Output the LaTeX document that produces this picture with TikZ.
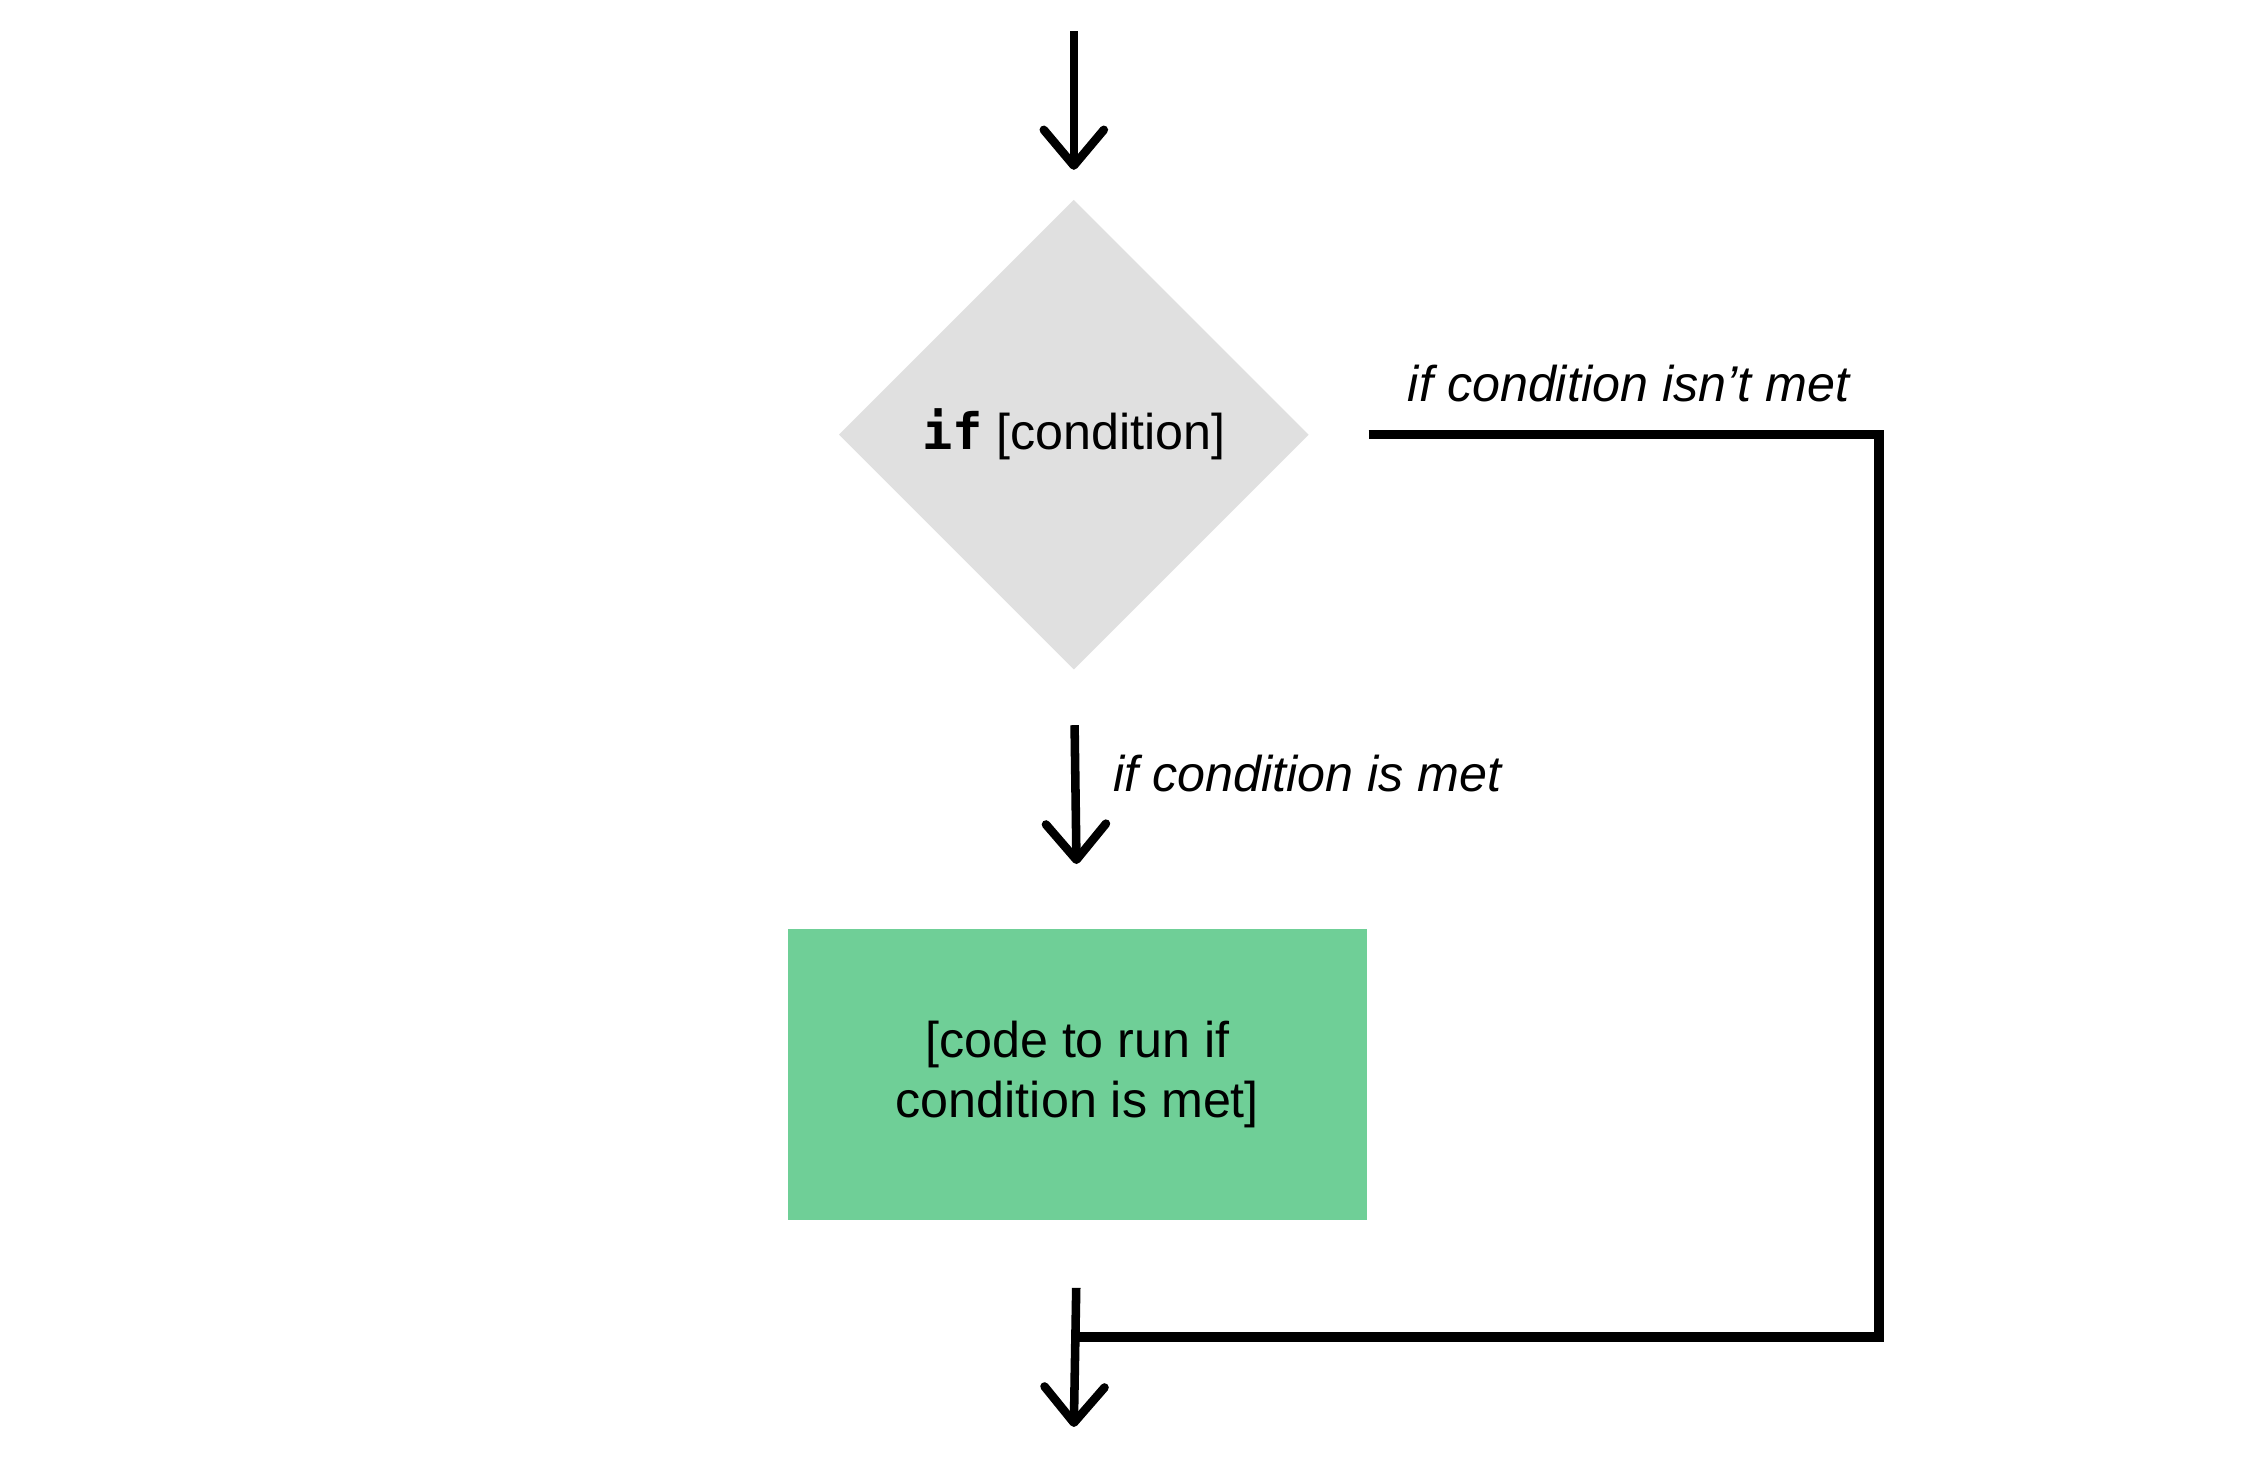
\documentclass[tikz,border=0pt]{standalone}
\usepackage{fontspec}
\setmainfont{Liberation Sans}
\setmonofont{DejaVu Sans Mono}
\usepackage{xcolor}
\usepackage{tikz}
\usetikzlibrary{arrows.meta,positioning,shapes.geometric}

\definecolor{condgray}{HTML}{E0E0E0}
\definecolor{codegreen}{HTML}{6FCF97}

\begin{document}
\begin{tikzpicture}[arr/.style={-{Straight Barb[length=0.25cm,width=0.42cm,round]},line width=1.7pt},
  cond/.style={diamond,fill=condgray,minimum width=3.29cm,minimum height=3.29cm,inner sep=0pt,font=\fontsize{10pt}{12pt}\selectfont},
  codebox/.style={rectangle,fill=codegreen,minimum width=4.05cm,minimum height=2.03cm,align=center,font=\fontsize{10pt}{12pt}\selectfont},
  lbl/.style={font=\fontsize{10pt}{12pt}\selectfont\itshape,inner sep=0pt}]

  \useasboundingbox (0,0) rectangle (15.68,-10.23);

    % The flow
	\coordinate (start) at (7.51,-0.22);
	\node [cond] at (7.51,-3.04) (if) {\texttt{\bfseries if} [condition]};
	\node [codebox] at (7.535,-7.515) (code) {[code to run if\\condition is met]};
	\coordinate (corner) at (13.14,-9.35);
	\coordinate (join) at (7.51,-9.35);
	\coordinate (end) at (7.51,-9.98);

	% Flow edges
	\draw[arr,shorten >=0.2cm] (start) -- (if.north);
	\draw[arr,shorten <=0.38cm,shorten >=0.45cm] (if.south) -- (code.north);
	\draw[arr,shorten <=0.47cm] (code.south) -- (end);
	\draw[line width=1.9pt] ([xshift=0.41cm]if.east) -| (corner) -- (join);

	% Labels
	\node [lbl] at (11.39,-2.68) (notmet) {if condition isn’t met};
	\node [lbl,anchor=west] at (7.78,-5.41) (met) {if condition is met};

\end{tikzpicture}
\end{document}
